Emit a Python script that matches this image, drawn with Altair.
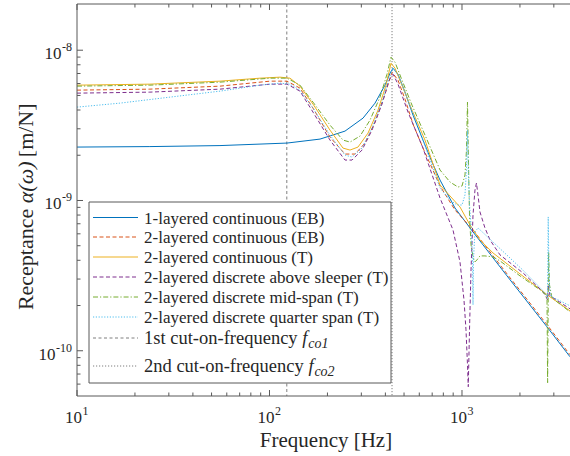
import altair as alt
import pandas as pd

# ---------------- receptance curves: frequency [Hz] / receptance [m/N] ----------------
freq_1l_eb = [10, 23.9, 55.3, 123.3, 183.0, 246.7, 306.1, 353.3, 398.1, 422.7, 438.2,
              465.2, 505.8, 556.6, 627.3, 698.6, 768.9, 919.6, 1141, 1713, 2765, 3639]
rec_1l_eb = [2.267e-9, 2.284e-9, 2.319e-9, 2.410e-9, 2.562e-9, 2.895e-9, 3.533e-9, 4.444e-9,
             5.855e-9, 7.034e-9, 7.593e-9, 6.927e-9, 5.260e-9, 3.699e-9, 2.523e-9, 1.802e-9,
             1.368e-9, 8.916e-10, 6.176e-10, 3.150e-10, 1.443e-10, 9.123e-11]

freq_2l_eb = [10, 23.9, 55.3, 100.6, 123.3, 144.0, 168.3, 206.2, 246.7, 278.1, 313.5, 353.3,
              398.1, 433.0, 465.2, 505.8, 556.6, 627.3, 698.6, 768.9, 919.6, 1141, 1713, 2765, 3639]
rec_2l_eb = [5.424e-9, 5.507e-9, 5.766e-9, 6.224e-9, 6.224e-9, 5.592e-9, 4.117e-9, 2.641e-9,
             2.037e-9, 2.037e-9, 2.410e-9, 3.323e-9, 5.102e-9, 7.142e-9, 6.320e-9, 4.726e-9,
             3.223e-9, 2.232e-9, 1.644e-9, 1.248e-9, 8.647e-10, 6.368e-10, 3.248e-10,
             1.489e-10, 9.406e-11]

freq_2l_t = [10, 23.9, 55.3, 89.3, 113.4, 127.8, 144.0, 168.3, 206.2, 240.9, 261.9, 288.2,
             324.9, 366.2, 402.9, 427.8, 448.8, 488.0, 550.0, 642.5, 768.9, 976.3, 1100, 1240,
             1449, 2001, 2865, 3639]
rec_2l_t = [5.855e-9, 5.945e-9, 6.224e-9, 6.516e-9, 6.616e-9, 6.516e-9, 5.766e-9, 4.377e-9,
            2.940e-9, 2.232e-9, 2.165e-9, 2.267e-9, 2.808e-9, 3.994e-9, 5.855e-9, 8.197e-9,
            7.593e-9, 5.855e-9, 3.994e-9, 2.523e-9, 1.268e-9, 9.053e-10, 6.874e-10, 5.463e-10,
            4.478e-10, 3.248e-10, 2.284e-10, 1.844e-10]

freq_sleeper = [10, 23.9, 55.3, 100.6, 123.3, 144.0, 168.3, 206.2, 246.7, 268.3, 302.4, 340.8,
                384.1, 417.7, 438.2, 465.2, 524.3, 627.3, 768.9, 898.0, 976.3, 1024, 1049, 1068,
                1078, 1094, 1114, 1141, 1168, 1189, 1211, 1240, 1316, 1398, 1576, 2074, 2636,
                2733, 2782, 2808, 2865, 3639]
rec_sleeper = [5.180e-9, 5.260e-9, 5.507e-9, 5.945e-9, 5.945e-9, 5.341e-9, 3.873e-9, 2.523e-9,
               1.858e-9, 1.858e-9, 2.165e-9, 2.940e-9, 4.377e-9, 6.320e-9, 6.927e-9, 5.945e-9,
               3.873e-9, 2.232e-9, 1.039e-9, 6.368e-10, 3.902e-10, 2.182e-10, 1.378e-10,
               8.07e-11, 5.765e-11, 1.378e-10, 3.452e-10, 8.010e-10, 1.174e-9, 1.307e-9,
               1.088e-9, 8.386e-10, 6.566e-10, 5.463e-10, 4.343e-10, 3.298e-10, 2.466e-10,
               2.284e-10, 2.182e-10, 2.745e-10, 2.320e-10, 1.902e-10]

freq_midspan = [10, 23.9, 55.3, 100.6, 123.3, 144.0, 168.3, 206.2, 240.9, 261.9, 295.3, 332.8,
                375.0, 407.8, 427.8, 448.8, 488.0, 550.0, 642.5, 768.9, 866.4, 953.3, 1000,
                1036.5, 1055, 1068, 1078, 1094, 1114, 1141, 1168, 1196, 1240, 1316, 1449, 1576,
                2001, 2543, 2733, 2765, 2785, 2805, 2818, 2848, 2934, 3639]
rec_midspan = [5.766e-9, 5.855e-9, 6.129e-9, 6.516e-9, 6.516e-9, 5.855e-9, 4.513e-9, 3.174e-9,
               2.523e-9, 2.447e-9, 2.682e-9, 3.426e-9, 4.873e-9, 6.927e-9, 8.987e-9, 8.323e-9,
               6.320e-9, 4.310e-9, 2.723e-9, 1.595e-9, 1.327e-9, 1.229e-9, 1.248e-9, 1.477e-9,
               2.165e-9, 4.513e-9, 2.165e-9, 8.010e-10, 5.062e-10, 4.212e-10, 3.902e-10,
               4.023e-10, 4.277e-10, 4.277e-10, 4.212e-10, 3.962e-10, 3.150e-10, 2.543e-10,
               2.355e-10, 2.182e-10, 6.130e-11, 2.182e-10, 4.547e-10, 2.745e-10, 2.250e-10,
               1.816e-10]

freq_quarter = [10, 16.7, 30.4, 55.3, 89.3, 113.4, 127.8, 144.0, 168.3, 206.2, 246.7, 268.3,
                302.4, 340.8, 384.1, 417.7, 438.2, 465.2, 524.3, 627.3, 768.9, 866.4, 942.0,
                1000, 1036.5, 1055, 1068, 1078, 1094, 1114, 1134, 1141, 1147, 1168, 1211, 1576,
                2074, 2733, 2782, 2805, 2831, 2865, 2934, 3639]
rec_quarter = [4.181e-9, 4.444e-9, 4.873e-9, 5.341e-9, 5.855e-9, 6.037e-9, 5.945e-9, 5.424e-9,
               4.117e-9, 2.723e-9, 2.006e-9, 1.945e-9, 2.232e-9, 3.031e-9, 4.513e-9, 6.516e-9,
               7.593e-9, 6.822e-9, 4.654e-9, 2.523e-9, 1.211e-9, 1.008e-9, 9.334e-10, 9.334e-10,
               1.088e-9, 1.595e-9, 2.940e-9, 1.595e-9, 9.334e-10, 6.874e-10, 4.023e-10,
               2.021e-10, 4.023e-10, 6.176e-10, 6.566e-10, 4.783e-10, 3.437e-10, 2.391e-10,
               2.250e-10, 7.769e-10, 3.199e-10, 2.429e-10, 2.284e-10, 1.991e-10]

# cut-on frequencies [Hz]
f_co1 = 123
f_co2 = 433

# axis ticks
x_major = [10, 100, 1000]
x_exp = ["1", "2", "3"]
x_minor = [20, 30, 40, 50, 60, 70, 80, 90, 200, 300, 400, 500, 600, 700, 800, 900, 2000, 3000]
y_major = [1e-10, 1e-9, 1e-8]
y_exp = ["-10", "-9", "-8"]
y_minor = [6e-11, 7e-11, 8e-11, 9e-11,
           2e-10, 3e-10, 4e-10, 5e-10, 6e-10, 7e-10, 8e-10, 9e-10,
           2e-9, 3e-9, 4e-9, 5e-9, 6e-9, 7e-9, 8e-9, 9e-9]

# ---------------- styling ----------------
FONT = "Liberation Serif"
INK = "#262626"
FRAME = "#595959"
W, H = 493, 392

series = [
    ("1-layered continuous (EB)", freq_1l_eb, rec_1l_eb, "#0072BD", None),
    ("2-layered continuous (EB)", freq_2l_eb, rec_2l_eb, "#D95319", [4, 2.5]),
    ("2-layered continuous (T)", freq_2l_t, rec_2l_t, "#EDB120", None),
    ("2-layered discrete above sleeper (T)", freq_sleeper, rec_sleeper, "#7E2F8E", [4, 2.5]),
    ("2-layered discrete mid-span (T)", freq_midspan, rec_midspan, "#77AC30", [5, 2, 1.2, 2]),
    ("2-layered discrete quarter span (T)", freq_quarter, rec_quarter, "#4DBEEE", [1.2, 1.6]),
]
cut_style = [("#7f7f7f", [3, 2.5]), ("#7f7f7f", [1.2, 1.8])]

x_scale = alt.Scale(type="log", domain=[10, 3640], nice=False)
y_scale = alt.Scale(type="log", domain=[5e-11, 2.03e-8], nice=False)
one = pd.DataFrame({"k": [0]})

layers = []

# cut-on frequency markers
for f0, (col, dash) in zip([f_co1, f_co2], cut_style):
    layers.append(
        alt.Chart(pd.DataFrame({"f": [f0]})).mark_rule(color=col, strokeWidth=1, strokeDash=dash)
        .encode(x=alt.X("f:Q", scale=x_scale, axis=None), y=alt.value(0), y2=alt.value(H))
    )

# response curves
for name, fs, vs, col, dash in series:
    df = pd.DataFrame({"f": fs, "a": vs})
    df["i"] = range(len(df))
    kw = dict(color=col, strokeWidth=1, clip=True)
    if dash:
        kw["strokeDash"] = dash
    layers.append(
        alt.Chart(df).mark_line(**kw).encode(
            x=alt.X("f:Q", scale=x_scale, axis=None),
            y=alt.Y("a:Q", scale=y_scale, axis=None),
            order="i:Q",
        )
    )

# frame (left, top, bottom)
layers.append(alt.Chart(one).mark_rule(color=FRAME, strokeWidth=1)
              .encode(x=alt.value(0), y=alt.value(0), y2=alt.value(H)))
layers.append(alt.Chart(one).mark_rule(color=FRAME, strokeWidth=1)
              .encode(x=alt.value(0), x2=alt.value(W), y=alt.value(0)))
layers.append(alt.Chart(one).mark_rule(color=FRAME, strokeWidth=1)
              .encode(x=alt.value(0), x2=alt.value(W), y=alt.value(H)))

# inward tick marks
for vals, ln in [(x_major, 6), (x_minor, 3.5)]:
    d = pd.DataFrame({"t": vals})
    layers.append(alt.Chart(d).mark_rule(color=FRAME, strokeWidth=1)
                  .encode(x=alt.X("t:Q", scale=x_scale, axis=None), y=alt.value(H), y2=alt.value(H - ln)))
    layers.append(alt.Chart(d).mark_rule(color=FRAME, strokeWidth=1)
                  .encode(x=alt.X("t:Q", scale=x_scale, axis=None), y=alt.value(0), y2=alt.value(ln)))
for vals, ln in [(y_major, 6), (y_minor, 3.5)]:
    d = pd.DataFrame({"t": vals})
    layers.append(alt.Chart(d).mark_rule(color=FRAME, strokeWidth=1)
                  .encode(y=alt.Y("t:Q", scale=y_scale, axis=None), x=alt.value(0), x2=alt.value(ln)))

# tick labels as 10 with a raised exponent
d = pd.DataFrame({"t": x_major, "e": x_exp})
layers.append(alt.Chart(d).mark_text(font=FONT, fontSize=17, color=INK, align="right", dx=5, baseline="alphabetic")
              .encode(x=alt.X("t:Q", scale=x_scale, axis=None), y=alt.value(H + 27), text=alt.value("10")))
layers.append(alt.Chart(d).mark_text(font=FONT, fontSize=12, color=INK, align="left", dx=5.5, baseline="alphabetic")
              .encode(x=alt.X("t:Q", scale=x_scale, axis=None), y=alt.value(H + 19), text="e:N"))
for t, e in zip(y_major, y_exp):
    w_exp = 12 * (0.333 + 0.5 * (len(e) - 1))
    dd = pd.DataFrame({"t": [t], "e": [e]})
    layers.append(alt.Chart(dd).mark_text(font=FONT, fontSize=12, color=INK, align="right", dy=1, baseline="alphabetic")
                  .encode(y=alt.Y("t:Q", scale=y_scale, axis=None), x=alt.value(-5), text="e:N"))
    layers.append(alt.Chart(dd).mark_text(font=FONT, fontSize=17, color=INK, align="right", dy=9, baseline="alphabetic")
                  .encode(y=alt.Y("t:Q", scale=y_scale, axis=None), x=alt.value(-5.5 - w_exp), text=alt.value("10")))

# axis titles
layers.append(alt.Chart(one).mark_text(font=FONT, fontSize=21, color=INK, align="center", baseline="alphabetic")
              .encode(x=alt.value(249), y=alt.value(H + 51), text=alt.value("Frequency [Hz]")))
title_parts = [("Receptance ", "normal", 106.9), ("α(ω)", "italic", 46.0), (" [m/N]", "normal", 59.3)]
y_pos = 200 + sum(p[2] for p in title_parts) / 2
for txt, style, w in title_parts:
    layers.append(alt.Chart(one).mark_text(font=FONT, fontSize=22, fontStyle=style, color=INK, align="left",
                                           baseline="alphabetic", angle=270)
                  .encode(x=alt.value(-44), y=alt.value(y_pos), text=alt.value(txt)))
    y_pos -= w

# legend box and entries
layers.append(alt.Chart(one).mark_rect(fill="white", stroke=FRAME, strokeWidth=1)
              .encode(x=alt.value(12), x2=alt.value(314), y=alt.value(198), y2=alt.value(379)))
legend_rows = [213.5, 233, 253, 273, 293, 313, 334, 362]
entries = [(s[0], s[3], s[4]) for s in series] + [
    ("1st cut-on-frequency ", cut_style[0][0], cut_style[0][1]),
    ("2nd cut-on-frequency ", cut_style[1][0], cut_style[1][1]),
]
sub_text = [None] * 6 + ["co1", "co2"]
for (label, col, dash), yr, sub in zip(entries, legend_rows, sub_text):
    kw = dict(color=col, strokeWidth=1)
    if dash:
        kw["strokeDash"] = dash
    size = 17 if sub is None else 18.5
    layers.append(alt.Chart(one).mark_rule(**kw)
                  .encode(x=alt.value(16), x2=alt.value(61), y=alt.value(yr)))
    layers.append(alt.Chart(one).mark_text(font=FONT, fontSize=size, color=INK, align="left", baseline="alphabetic")
                  .encode(x=alt.value(67), y=alt.value(yr + 6), text=alt.value(label)))
    if sub:
        x_f = 67 + size * (8.553 if sub == "co1" else 8.886)
        layers.append(alt.Chart(one).mark_text(font=FONT, fontSize=size, fontStyle="italic", color=INK,
                                               align="left", baseline="alphabetic")
                      .encode(x=alt.value(x_f), y=alt.value(yr + 6), text=alt.value("f")))
        layers.append(alt.Chart(one).mark_text(font=FONT, fontSize=14, fontStyle="italic", color=INK,
                                               align="left", baseline="alphabetic")
                      .encode(x=alt.value(x_f + 6), y=alt.value(yr + 10), text=alt.value(sub)))

chart = (
    alt.layer(*layers)
    .properties(width=W, height=H, background="white",
                padding={"left": 77, "top": 4, "right": 0, "bottom": 60},
                autosize=alt.AutoSizeParams(type="none"))
    .configure_view(stroke=None)
)

chart.save("out.html", embed_options={"renderer": "svg", "actions": False})
